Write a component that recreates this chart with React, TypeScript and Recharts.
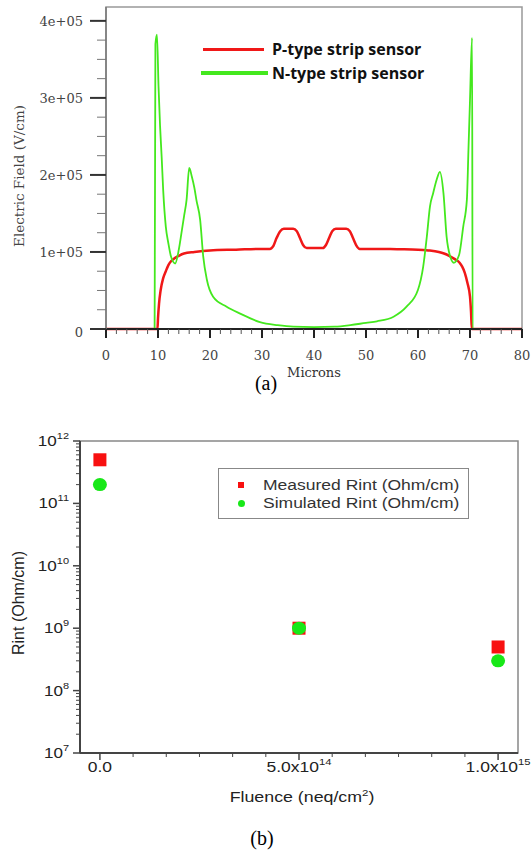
import { LineChart, Line, XAxis, YAxis, ReferenceArea, Legend, ScatterChart, Scatter } from 'recharts'

// (a) electric field profile across the strip, microns vs V/cm
const pMicrons = [0, 9.9, 10.0, 10.2, 10.5, 11, 11.5, 12, 12.5, 13, 14, 15, 17, 20, 25, 30, 31.5, 32.2, 32.8, 33.5, 34.2, 36.0, 36.7, 37.3, 37.9, 38.6, 40.2, 41.7, 42.3, 42.9, 43.5, 44.2, 46.2, 46.9, 47.5, 48.1, 48.8, 52, 56, 60, 62, 64, 65, 66, 67, 68, 68.5, 69, 69.5, 70, 70.2, 70.35, 80]
const pField = [0, 0, 14000, 33000, 50000, 66000, 75000, 83000, 88000, 91000, 95000, 98000, 100000, 102000, 103000, 104000, 104000, 108000, 118000, 127000, 130000, 130000, 127000, 118000, 109000, 105000, 105000, 105000, 109000, 118000, 127000, 130000, 130000, 127000, 118000, 109000, 104000, 104000, 103500, 103000, 102000, 100000, 98000, 95000, 91000, 86000, 81000, 73000, 60000, 42000, 22000, 0, 0]
const nMicrons = [0, 9.35, 9.5, 9.8, 10.1, 10.4, 10.7, 11.0, 11.5, 12, 12.5, 13.3, 14, 14.5, 15, 15.5, 16, 16.5, 17, 17.4, 18.1, 18.7, 19.4, 20.6, 23.2, 25.8, 29.6, 33, 36, 40, 44, 47, 50, 52.1, 55.3, 57.8, 60, 61, 61.7, 62.3, 62.9, 63.6, 64.2, 64.9, 65.5, 66.2, 66.9, 67.9, 68.7, 69.4, 69.7, 70.0, 70.4, 70.5, 80]
const nField = [0, 0, 370000, 382000, 315000, 263000, 224000, 180000, 133000, 111000, 94000, 85000, 103000, 124000, 146000, 168000, 209000, 198000, 183000, 167000, 142000, 94000, 64000, 42000, 29000, 20000, 9000, 5000, 3000, 2500, 3000, 5000, 8000, 10000, 16000, 29000, 51000, 81000, 120000, 159000, 176000, 194000, 204000, 176000, 120000, 94000, 86000, 96000, 133000, 168000, 232000, 297000, 378000, 0, 0]
const micronMajorTicks = [0, 10, 20, 30, 40, 50, 60, 70, 80]
const fieldMajorTicks = [0, 100000, 200000, 300000, 400000]
const fieldTickLabels = ['0', '1e+05', '2e+05', '3e+05', '4e+05']

// (b) interstrip resistance vs fluence
const fluence = [0, 5e14, 1e15]
const measuredRint = [5e11, 1e9, 5e8]
const simulatedRint = [2e11, 1e9, 3e8]
const fluenceMajorTicks = [0, 5e14, 1e15]
const fluenceTickLabels = ['0.0', '5.0x10^14', '1.0x10^15']
const rintDecades = [7, 8, 9, 10, 11, 12]

const RED_A = '#f01818'
const GREEN_A = '#44e81e'
const RED_B = '#f81010'
const GREEN_B = '#18e818'
const SERIF = '"DejaVu Serif", serif'
const SANS = '"Liberation Sans", Arial, sans-serif'

const pData = pMicrons.map((x, i) => ({ x, v: pField[i] }))
const nData = nMicrons.map((x, i) => ({ x, v: nField[i] }))

// minor ticks: every 2 microns, every quarter of 1e5
const micronTicks: number[] = []
micronMajorTicks.slice(0, -1).forEach((m) => {
  for (let k = 0; k < 5; k++) micronTicks.push(m + k * 2)
})
micronTicks.push(80)
const fieldTicks: number[] = []
fieldMajorTicks.slice(0, -1).forEach((m) => {
  for (let k = 0; k < 4; k++) fieldTicks.push(m + k * 25000)
})
fieldTicks.push(400000)

const measuredData = fluence.map((x, i) => ({ x, y: measuredRint[i] }))
const simulatedData = fluence.map((x, i) => ({ x, y: simulatedRint[i] }))

const fluenceTicks: number[] = []
fluenceMajorTicks.slice(0, -1).forEach((m, i) => {
  const step = (fluenceMajorTicks[i + 1] - m) / 6
  for (let k = 0; k < 6; k++) fluenceTicks.push(m + k * step)
})
fluenceTicks.push(1e15)
const rintTicks: number[] = []
rintDecades.slice(0, -1).forEach((d) => {
  for (let k = 1; k < 10; k++) rintTicks.push(k * Math.pow(10, d))
})
rintTicks.push(1e12)

const MicronTick = ({ x, y, payload }: any) => {
  const v = payload.value
  const idx = micronMajorTicks.indexOf(v)
  const major = idx >= 0
  return (
    <g>
      <line x1={x} x2={x} y1={y} y2={y + (major ? 9 : 5)} stroke={major ? '#222' : '#555'} strokeWidth={major ? 2 : 1} />
      {major && (
        <text x={x} y={y + 31} textAnchor="middle" fontFamily={SERIF} fontSize={13} fill="#444">
          {v}
        </text>
      )}
    </g>
  )
}

const FieldTick = ({ x, y, payload }: any) => {
  const idx = fieldMajorTicks.indexOf(payload.value)
  const major = idx >= 0
  return (
    <g>
      <line x1={x - (major ? 16 : 9)} x2={x} y1={y} y2={y} stroke={major ? '#333' : '#777'} strokeWidth={major ? 2 : 1} />
      {major && (
        <text x={x - 23} y={y + (idx === 0 ? 8 : 5)} textAnchor="end" fontFamily={SERIF} fontSize={13} fill="#444">
          {fieldTickLabels[idx]}
        </text>
      )}
    </g>
  )
}

const FluenceTick = ({ x, y, payload }: any) => {
  const idx = fluenceMajorTicks.findIndex((m) => Math.abs(m - payload.value) < 1e6)
  const major = idx >= 0
  const [base, exp] = major ? fluenceTickLabels[idx].split('^') : ['', '']
  return (
    <g>
      <line x1={x} x2={x} y1={y} y2={y + (major ? 7 : 4)} stroke="#444" strokeWidth={major ? 1.5 : 1} />
      {major && (
        <g transform={`translate(${x},${y + 19}) scale(1.25,1)`}>
          <text textAnchor="middle" fontFamily={SANS} fontSize={14} fill="#222">
            {base}
            {exp && (
              <tspan dy={-7} fontSize={9}>
                {exp}
              </tspan>
            )}
          </text>
        </g>
      )}
    </g>
  )
}

const RintTick = ({ x, y, payload }: any) => {
  const e = Math.log10(payload.value)
  const major = Math.abs(e - Math.round(e)) < 1e-6
  return (
    <g>
      <line x1={x - (major ? 7 : 4)} x2={x} y1={y} y2={y} stroke="#444" strokeWidth={major ? 1.5 : 1} />
      {major && (
        <g transform={`translate(${x - 11},${y + 5}) scale(1.22,1)`}>
          <text textAnchor="end" fontFamily={SANS} fontSize={14} fill="#222">
            10
            <tspan dy={-7} fontSize={9}>
              {Math.round(e)}
            </tspan>
          </text>
        </g>
      )}
    </g>
  )
}

const SquareDot = ({ cx, cy }: any) => <rect x={cx - 6.5} y={cy - 6.5} width={13} height={13} fill={RED_B} />
const RoundDot = ({ cx, cy }: any) => <ellipse cx={cx} cy={cy} rx={7} ry={6.5} fill={GREEN_B} />

const FieldLegend = () => (
  <div style={{ fontFamily: '"Open Sans", sans-serif', fontWeight: 700, fontSize: 16, color: '#111' }}>
    <div style={{ display: 'flex', alignItems: 'center', height: 24 }}>
      <span style={{ display: 'inline-block', width: 61, height: 3, marginLeft: 3, marginRight: 8, background: RED_A }} />
      <span>P-type strip sensor</span>
    </div>
    <div style={{ display: 'flex', alignItems: 'center', height: 24 }}>
      <span style={{ display: 'inline-block', width: 67, height: 4, marginLeft: 1, marginRight: 4, background: GREEN_A }} />
      <span>N-type strip sensor</span>
    </div>
  </div>
)

const RintLegend = () => (
  <div
    style={{
      boxSizing: 'border-box',
      width: 251,
      height: 51,
      border: '1.5px solid #888',
      background: '#fff',
      fontFamily: SANS,
      fontSize: 14,
      color: '#333',
      paddingTop: 7,
    }}
  >
    {[
      ['Measured Rint (Ohm/cm)', <span style={{ display: 'inline-block', width: 6, height: 6, background: RED_B }} />],
      ['Simulated Rint (Ohm/cm)', <span style={{ display: 'inline-block', width: 7, height: 7, borderRadius: 4, background: GREEN_B }} />],
    ].map(([text, sym]: any) => (
      <div key={text} style={{ display: 'flex', alignItems: 'center', height: 18 }}>
        <span style={{ width: 44, display: 'flex', justifyContent: 'center', paddingLeft: 0 }}>{sym}</span>
        <span style={{ display: 'inline-block', transform: 'scaleX(1.25)', transformOrigin: 'left center', whiteSpace: 'nowrap' }}>{text}</span>
      </div>
    ))}
  </div>
)

export default function App() {
  return (
    <div style={{ position: 'absolute', left: 0, top: 0, width: 531, height: 857, background: '#fff' }}>
      <div style={{ position: 'absolute', left: 0, top: 0 }}>
        <LineChart width={531} height={400} margin={{ top: 7, right: 9, bottom: 0, left: 0 }}>
          <XAxis
            dataKey="x"
            type="number"
            domain={[0, 80]}
            ticks={micronTicks}
            interval={0}
            tickSize={0}
            tickMargin={0}
            height={71}
            tick={MicronTick}
            axisLine={{ stroke: '#222', strokeWidth: 2 }}
            label={({ viewBox }: any) => (
              <text x={viewBox.x + viewBox.width / 2} y={viewBox.y + 48} textAnchor="middle" fontFamily={SERIF} fontSize={13} fill="#333">
                Microns
              </text>
            )}
          />
          <YAxis
            type="number"
            domain={[0, 418000]}
            ticks={fieldTicks}
            interval={0}
            tickSize={0}
            tickMargin={0}
            width={106}
            tick={FieldTick}
            axisLine={{ stroke: '#777', strokeWidth: 1.5 }}
            label={() => (
              <text transform="translate(24,176) rotate(-90)" textAnchor="middle" fontFamily={SERIF} fontSize={13.5} fill="#444">
                Electric Field (V/cm)
              </text>
            )}
          />
          <ReferenceArea x1={0} x2={80} y1={0} y2={418000} fill="none" stroke="#999" strokeWidth={1.5} ifOverflow="visible" />
          <Line data={pData} dataKey="v" type="monotone" stroke={RED_A} strokeWidth={2.5} dot={false} isAnimationActive={false} />
          <Line data={nData} dataKey="v" type="monotone" stroke={GREEN_A} strokeWidth={1.8} dot={false} isAnimationActive={false} />
          <Legend
            layout="horizontal"
            verticalAlign="middle"
            align="center"
            wrapperStyle={{ left: 200, top: 37, width: 260, height: 48 }}
            content={FieldLegend}
          />
        </LineChart>
      </div>
      <div style={{ position: 'absolute', left: 216, top: 371, width: 100, textAlign: 'center', fontFamily: '"Liberation Serif", serif', fontSize: 20, lineHeight: '24px' }}>
        (a)
      </div>
      <div style={{ position: 'absolute', left: 0, top: 400 }}>
        <ScatterChart width={531} height={457} margin={{ top: 41, right: 13, bottom: 0, left: 0 }}>
          <XAxis
            dataKey="x"
            type="number"
            domain={[-5e13, 1.05e15]}
            ticks={fluenceTicks}
            interval={0}
            tickSize={0}
            tickMargin={0}
            height={104}
            tick={FluenceTick}
            axisLine={{ stroke: '#444', strokeWidth: 2 }}
            label={({ viewBox }: any) => (
              <g transform={`translate(${viewBox.x + viewBox.width / 2 + 3},${viewBox.y + 49}) scale(1.27,1)`}>
                <text textAnchor="middle" fontFamily={SANS} fontSize={14} fill="#222">
                  Fluence (neq/cm
                  <tspan dy={-6} fontSize={9}>
                    2
                  </tspan>
                  <tspan dy={6}>)</tspan>
                </text>
              </g>
            )}
          />
          <YAxis
            dataKey="y"
            type="number"
            scale="log"
            domain={[1e7, 1e12]}
            allowDataOverflow
            ticks={rintTicks}
            interval={0}
            tickSize={0}
            tickMargin={0}
            width={80}
            tick={RintTick}
            axisLine={{ stroke: '#444', strokeWidth: 2 }}
            label={() => (
              <text transform="translate(24,203) rotate(-90)" textAnchor="middle" fontFamily={SANS} fontSize={16} fill="#222">
                Rint (Ohm/cm)
              </text>
            )}
          />
          <ReferenceArea x1={-5e13} x2={1.05e15} y1={1e7} y2={1e12} fill="none" stroke="#888" strokeWidth={1.5} ifOverflow="visible" />
          <Scatter data={measuredData} fill={RED_B} shape={SquareDot} isAnimationActive={false} />
          <Scatter data={simulatedData} fill={GREEN_B} shape={RoundDot} isAnimationActive={false} />
          <Legend
            layout="horizontal"
            verticalAlign="middle"
            align="center"
            wrapperStyle={{ left: 218, top: 68, width: 251, height: 51 }}
            content={RintLegend}
          />
        </ScatterChart>
      </div>
      <div style={{ position: 'absolute', left: 212, top: 826, width: 100, textAlign: 'center', fontFamily: '"Liberation Serif", serif', fontSize: 20, lineHeight: '24px' }}>
        (b)
      </div>
    </div>
  )
}
